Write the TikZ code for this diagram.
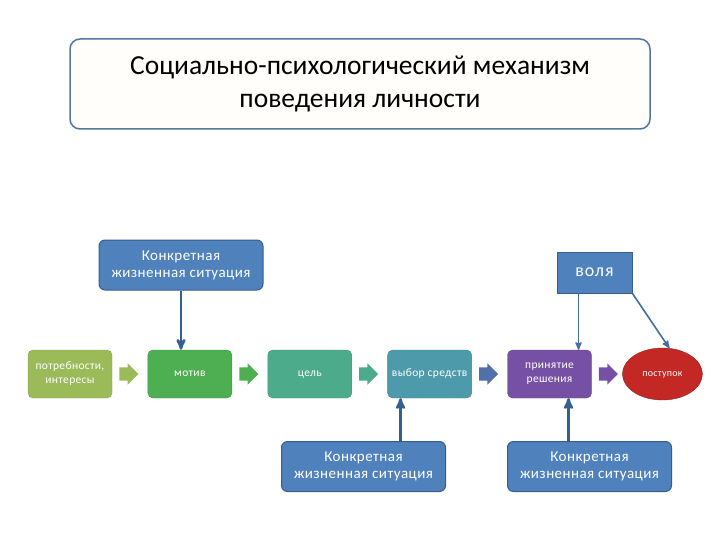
\documentclass[tikz,border=0pt]{standalone}
\usepackage{fontspec}
\setmainfont{Carlito}
\usetikzlibrary{arrows,positioning,shapes.arrows,shapes.geometric}

\definecolor{titleedge}{RGB}{84,118,160}
\definecolor{titlefill}{RGB}{255,254,250}
\definecolor{bluebox}{RGB}{79,129,189}
\definecolor{blueedge}{RGB}{56,93,138}
\definecolor{linkblue}{RGB}{52,95,145}
\definecolor{needcol}{RGB}{155,187,89}
\definecolor{motivecol}{RGB}{78,174,82}
\definecolor{goalcol}{RGB}{76,171,138}
\definecolor{choicecol}{RGB}{76,154,170}
\definecolor{choicearrow}{RGB}{80,112,170}
\definecolor{decisioncol}{RGB}{118,80,165}
\definecolor{actcol}{RGB}{196,40,36}

\begin{document}
\begin{tikzpicture}[x=1pt,y=-1pt,>=stealth',
    stage/.style={rectangle,rounded corners=5pt,draw=#1!85!black,fill=#1,text=white,
      minimum width=84pt,minimum height=48pt,inner sep=2pt,align=center,
      font=\fontsize{11.5}{14}\selectfont\addfontfeature{LetterSpace=3}},
    one line/.style={text height=7pt,text depth=2pt},
    flow/.style={single arrow,fill=#1,draw=none,minimum height=19pt,inner xsep=0pt,
      inner ysep=6.5pt,single arrow head extend=4pt},
    situation/.style={rectangle,rounded corners=6pt,draw=blueedge,fill=bluebox,text=white,
      line width=1pt,minimum width=164pt,minimum height=50pt,align=center,
      font=\fontsize{15}{17}\selectfont\addfontfeature{LetterSpace=3}},
    link/.style={draw=linkblue,line width=2.5pt,->},
    thin link/.style={draw=bluebox!85!black,line width=1.6pt,->}]
  \useasboundingbox (0,0) rectangle (720,540);

  \node[draw=titleedge,line width=1.5pt,fill=titlefill,rounded corners=10pt,
        minimum width=580pt,minimum height=90pt,align=center,
        font=\fontsize{27.5}{33}\selectfont] (title) at (360,84)
        {Социально-психологический механизм\\поведения личности};

  % the chain
  \node[stage=needcol] (need) at (70,374) {потребности,\\интересы};
  \node[flow=needcol,right=7pt of need] (a1) {};
  \node[stage=motivecol,one line,right=9pt of a1] (motive) {мотив};
  \node[flow=motivecol,right=7pt of motive] (a2) {};
  \node[stage=goalcol,one line,right=9pt of a2] (goal) {цель};
  \node[flow=goalcol,right=7pt of goal] (a3) {};
  \node[stage=choicecol,one line,right=9pt of a3] (choice) {выбор средств};
  \node[flow=choicearrow,right=7pt of choice] (a4) {};
  \node[stage=decisioncol,right=9pt of a4] (decision) {принятие\\решения};
  \node[flow=decisioncol,right=7pt of decision] (a5) {};
  \node[ellipse,draw=actcol!75!black,fill=actcol,text=white,minimum width=80pt,
        minimum height=52pt,inner sep=0pt,one line,
        font=\fontsize{10}{12}\selectfont\addfontfeature{LetterSpace=3},
        right=4pt of a5] (act) {поступок};

  % situations and will
  \node[situation] (sit1) at (181,265) {Конкретная\\жизненная ситуация};
  \node[situation] (sit2) at (363.5,466.5) {Конкретная\\жизненная ситуация};
  \node[situation] (sit3) at (589.5,466.5) {Конкретная\\жизненная ситуация};
  \node[draw=blueedge,line width=1pt,fill=bluebox,text=white,minimum width=75pt,
        minimum height=41pt,font=\fontsize{18}{20}\selectfont\addfontfeature{LetterSpace=5}]
        (will) at (594.5,272.5) {воля};

  \draw[link] (sit1.south) -- (sit1.south |- motive.north);
  \draw[link] ([xshift=37pt]sit2.north) -- ([xshift=37pt]sit2.north |- choice.south);
  \draw[link] ([xshift=-21pt]sit3.north) -- ([xshift=-21pt]sit3.north |- decision.south);
  \draw[thin link] ([xshift=22pt]will.south west) -- ([xshift=22pt]will.south west |- decision.north);
  \draw[thin link] (will.south east) -- (act.75);
\end{tikzpicture}
\end{document}
